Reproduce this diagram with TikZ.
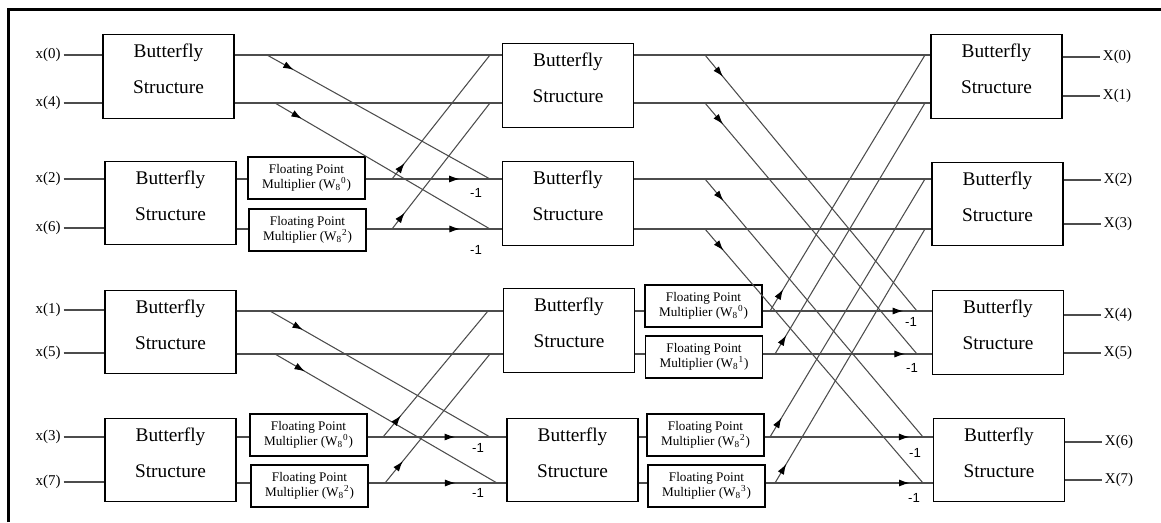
\documentclass[tikz,border=0pt]{standalone}
\usepackage{fontspec}
\setmainfont{Liberation Serif}
\newfontfamily\negfont{Liberation Sans}
\usetikzlibrary{arrows.meta,positioning,calc,decorations.markings}

\begin{document}
\begin{tikzpicture}[
    x=0.02cm, y=-0.02cm,
    every node/.style={inner sep=1.5pt},
    bfly/.style={draw, line width=0.6pt, minimum width=2.62cm, minimum height=1.67cm, align=center, text depth=8.5pt, font=\fontsize{11}{20.5}\selectfont},
    fpm/.style={draw, line width=0.6pt, minimum width=2.34cm, minimum height=0.84cm, align=center, font=\fontsize{7.5}{8.6}\selectfont},
    io/.style={font=\fontsize{8.5}{10}\selectfont},
    neg/.style={font=\negfont\fontsize{7.5}{8}\selectfont},
    wire/.style={draw=black!70, line width=0.6pt},
    flow/.style={wire, postaction={decorate}, decoration={markings, mark=at position #1 with {\arrow[black]{Latex[length=6pt,width=4pt]}}}},
  ]
  \useasboundingbox (0,0) rectangle (1161,522);

  % frame
  \draw[line width=1.6pt] (8.5,522) -- (8.5,9.5) -- (1161,9.5);

  % signal rows
  \coordinate (r0) at (0,55);  \coordinate (r1) at (0,103);
  \coordinate (r2) at (0,179); \coordinate (r3) at (0,229);
  \coordinate (r4) at (0,311); \coordinate (r5) at (0,354);
  \coordinate (r6) at (0,437); \coordinate (r7) at (0,483);

  % first stage
  \node[bfly] (bf1) at (168.5,76.5) {Butterfly\\Structure};
  \node[bfly] (bf2) at (170.5,203) {Butterfly\\Structure};
  \node[bfly] (bf3) at (170.5,332) {Butterfly\\Structure};
  \node[bfly] (bf4) at (170.5,460) {Butterfly\\Structure};
  \node[fpm] (m1) at (306.5,178) {Floating Point\\Multiplier (W\textsubscript{8}\textsuperscript{0})};
  \node[fpm] (m2) at (307.5,230) {Floating Point\\Multiplier (W\textsubscript{8}\textsuperscript{2})};
  \node[fpm] (m3) at (308.5,435) {Floating Point\\Multiplier (W\textsubscript{8}\textsuperscript{0})};
  \node[fpm] (m4) at (309.5,486) {Floating Point\\Multiplier (W\textsubscript{8}\textsuperscript{2})};

  % second stage
  \node[bfly] (bf5) at (568,85.5) {Butterfly\\Structure};
  \node[bfly] (bf6) at (568,203.5) {Butterfly\\Structure};
  \node[bfly] (bf7) at (569,330.5) {Butterfly\\Structure};
  \node[bfly] (bf8) at (572.5,460) {Butterfly\\Structure};
  \node[fpm] (m5) at (703.5,306) {Floating Point\\Multiplier (W\textsubscript{8}\textsuperscript{0})};
  \node[fpm] (m6) at (704,357) {Floating Point\\Multiplier (W\textsubscript{8}\textsuperscript{1})};
  \node[fpm] (m7) at (705.5,435) {Floating Point\\Multiplier (W\textsubscript{8}\textsuperscript{2})};
  \node[fpm] (m8) at (706.5,486) {Floating Point\\Multiplier (W\textsubscript{8}\textsuperscript{3})};

  % third stage
  \node[bfly] (bf9) at (996.5,76.5) {Butterfly\\Structure};
  \node[bfly] (bf10) at (997.5,204) {Butterfly\\Structure};
  \node[bfly] (bf11) at (998,332.5) {Butterfly\\Structure};
  \node[bfly] (bf12) at (999,460) {Butterfly\\Structure};

  % inputs
  \node[io, anchor=east] (x0) at (63.5,55) {x(0)};
  \node[io, anchor=east] (x4) at (63.5,103) {x(4)};
  \node[io, anchor=east] (x2) at (63.5,179) {x(2)};
  \node[io, anchor=east] (x6) at (63.5,228) {x(6)};
  \node[io, anchor=east] (x1) at (63.5,310) {x(1)};
  \node[io, anchor=east] (x5) at (63.5,353) {x(5)};
  \node[io, anchor=east] (x3) at (63.5,437) {x(3)};
  \node[io, anchor=east] (x7) at (63.5,482) {x(7)};
  \draw[wire] (x0) -- (x0 -| bf1.west);
  \draw[wire] (x4) -- (x4 -| bf1.west);
  \draw[wire] (x2) -- (x2 -| bf2.west);
  \draw[wire] (x6) -- (x6 -| bf2.west);
  \draw[wire] (x1) -- (x1 -| bf3.west);
  \draw[wire] (x5) -- (x5 -| bf3.west);
  \draw[wire] (x3) -- (x3 -| bf4.west);
  \draw[wire] (x7) -- (x7 -| bf4.west);

  % outputs
  \node[io, anchor=west] (X0) at (1100,57) {X(0)};
  \node[io, anchor=west] (X1) at (1100,96) {X(1)};
  \node[io, anchor=west] (X2) at (1101,180) {X(2)};
  \node[io, anchor=west] (X3) at (1101,224) {X(3)};
  \node[io, anchor=west] (X4) at (1101,315) {X(4)};
  \node[io, anchor=west] (X5) at (1101,353) {X(5)};
  \node[io, anchor=west] (X6) at (1102,442) {X(6)};
  \node[io, anchor=west] (X7) at (1102,480) {X(7)};
  \draw[wire] (bf9.east |- X0) -- (X0);
  \draw[wire] (bf9.east |- X1) -- (X1);
  \draw[wire] (bf10.east |- X2) -- (X2);
  \draw[wire] (bf10.east |- X3) -- (X3);
  \draw[wire] (bf11.east |- X4) -- (X4);
  \draw[wire] (bf11.east |- X5) -- (X5);
  \draw[wire] (bf12.east |- X6) -- (X6);
  \draw[wire] (bf12.east |- X7) -- (X7);

  % stage 1 -> stage 2, straight runs
  \draw[wire] (bf1.east |- r0) -- (bf5.west |- r0);
  \draw[wire] (bf1.east |- r1) -- (bf5.west |- r1);
  \draw[wire] (bf2.east |- r2) -- (m1.west |- r2);
  \draw[wire] (bf2.east |- r3) -- (m2.west |- r3);
  \draw[flow=0.69] (m1.east |- r2) -- (bf6.west |- r2);
  \draw[flow=0.69] (m2.east |- r3) -- (bf6.west |- r3);
  \draw[wire] (bf3.east |- r4) -- (bf7.west |- r4);
  \draw[wire] (bf3.east |- r5) -- (bf7.west |- r5);
  \draw[wire] (bf4.east |- r6) -- (m3.west |- r6);
  \draw[wire] (bf4.east |- r7) -- (m4.west |- r7);
  \draw[flow=0.63] (m3.east |- r6) -- (bf8.west |- r6);
  \draw[flow=0.63] (m4.east |- r7) -- (bf8.west |- r7);

  % stage 1 -> stage 2, crossings
  \coordinate (a0) at (267,55);  \coordinate (a1) at (275,103);
  \coordinate (a2) at (392,179); \coordinate (a3) at (392,229);
  \coordinate (a4) at (270,311); \coordinate (a5) at (275,354);
  \coordinate (a6) at (383,437); \coordinate (a7) at (385,483);
  \coordinate (b0) at (490,55);  \coordinate (b1) at (490,103);
  \coordinate (b2) at (490,179); \coordinate (b3) at (490,229);
  \coordinate (b4) at (488,311); \coordinate (b5) at (490,354);
  \coordinate (b6) at (490,437); \coordinate (b7) at (497,483);
  \draw[flow=0.12] (a0) -- (b2);
  \draw[flow=0.125] (a1) -- (b3);
  \draw[flow=0.13] (a2) -- (b0);
  \draw[flow=0.13] (a3) -- (b1);
  \draw[flow=0.15] (a4) -- (b6);
  \draw[flow=0.135] (a5) -- (b7);
  \draw[flow=0.17] (a6) -- (b4);
  \draw[flow=0.17] (a7) -- (b5);

  % stage 2 -> stage 3, straight runs
  \draw[wire] (bf5.east |- r0) -- (bf9.west |- r0);
  \draw[wire] (bf5.east |- r1) -- (bf9.west |- r1);
  \draw[wire] (bf6.east |- r2) -- (bf10.west |- r2);
  \draw[wire] (bf6.east |- r3) -- (bf10.west |- r3);
  \draw[wire] (bf7.east |- r4) -- (m5.west |- r4);
  \draw[wire] (bf7.east |- r5) -- (m6.west |- r5);
  \draw[wire] (bf8.east |- r6) -- (m7.west |- r6);
  \draw[wire] (bf8.east |- r7) -- (m8.west |- r7);
  \draw[flow=0.83] (m5.east |- r4) -- (bf11.west |- r4);
  \draw[flow=0.84] (m6.east |- r5) -- (bf11.west |- r5);
  \draw[flow=0.86] (m7.east |- r6) -- (bf12.west |- r6);
  \draw[flow=0.86] (m8.east |- r7) -- (bf12.west |- r7);

  % stage 2 -> stage 3, crossings
  \coordinate (c0) at (705,55);  \coordinate (c1) at (705,103);
  \coordinate (c2) at (705,179); \coordinate (c3) at (705,229);
  \coordinate (c4) at (770,311); \coordinate (c5) at (775,354);
  \coordinate (c6) at (770,437); \coordinate (c7) at (775,483);
  \coordinate (e0) at (925,55);  \coordinate (e1) at (925,103);
  \coordinate (e2) at (925,179); \coordinate (e3) at (925,229);
  \coordinate (e4) at (917,311); \coordinate (e5) at (917,354);
  \coordinate (e6) at (923,437); \coordinate (e7) at (923,483);
  \draw[flow=0.085] (c0) -- (e4);
  \draw[flow=0.085] (c1) -- (e5);
  \draw[flow=0.085] (c2) -- (e6);
  \draw[flow=0.085] (c3) -- (e7);
  \draw[flow=0.085] (c4) -- (e0);
  \draw[flow=0.075] (c5) -- (e1);
  \draw[flow=0.075] (c6) -- (e2);
  \draw[flow=0.075] (c7) -- (e3);

  % twiddle signs
  \node[neg] (n1) at (476,193) {-1};
  \node[neg] (n2) at (476,250) {-1};
  \node[neg] (n3) at (478,448) {-1};
  \node[neg] (n4) at (478,493) {-1};
  \node[neg] (n5) at (911,322) {-1};
  \node[neg] (n6) at (912,368) {-1};
  \node[neg] (n7) at (915,453) {-1};
  \node[neg] (n8) at (914,498) {-1};

\end{tikzpicture}
\end{document}
